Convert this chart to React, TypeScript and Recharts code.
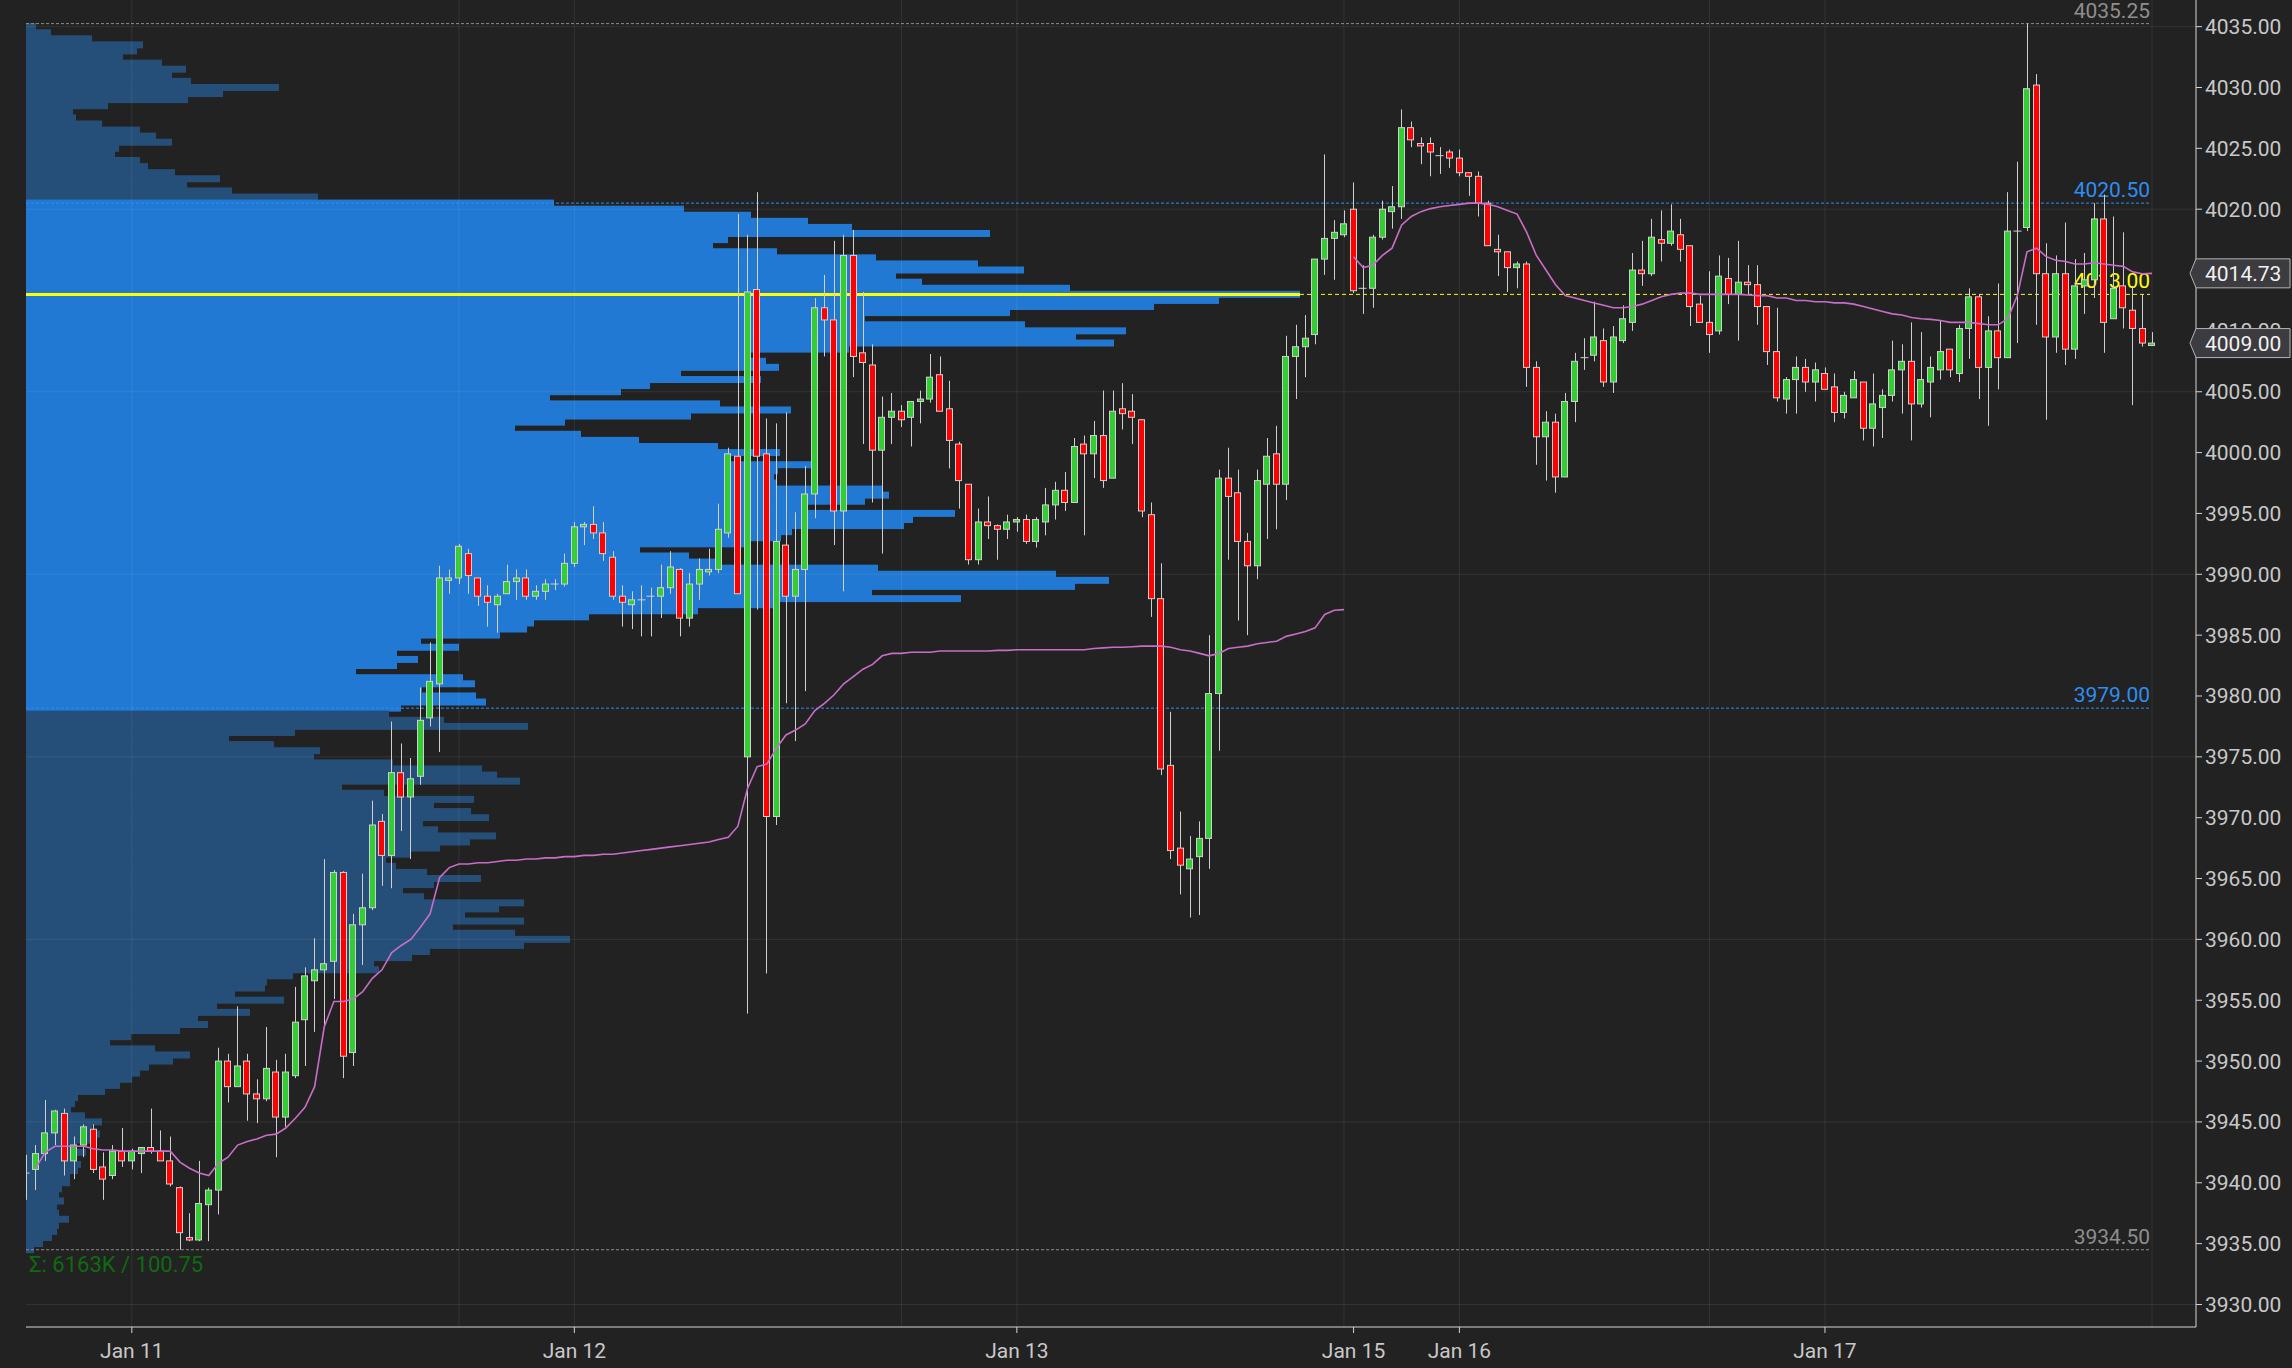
import React from 'react'
import { ComposedChart, Bar, Line, XAxis, YAxis, ReferenceLine } from 'recharts'

// ES 30-minute bars, Jan 10 (evening) to Jan 17, with a composite volume profile

const openPx = [
  3940.8, 3941.1, 3942.4, 3944.1, 3945.7, 3941.8, 3943.1, 3944.4, 3941.3, 3940.6,
  3942.6, 3941.8, 3942.4, 3942.9, 3942.6, 3941.8, 3939.6, 3935.5, 3935.3, 3938.2,
  3939.4, 3950.0, 3947.9, 3950.0, 3947.3, 3946.9, 3949.1, 3945.4, 3948.8, 3953.4,
  3956.6, 3957.5, 3958.2, 3965.5, 3950.7, 3961.2, 3962.6, 3969.7, 3966.9, 3973.7,
  3971.7, 3973.4, 3978.2, 3981.0, 3989.5, 3989.7, 3991.7, 3989.7, 3988.2, 3987.5,
  3988.4, 3989.4, 3989.7, 3988.2, 3988.6, 3989.2, 3989.2, 3990.9, 3993.9, 3994.1,
  3993.4, 3991.4, 3988.2, 3987.5, 3987.9, 3988.2, 3988.2, 3988.9, 3990.4, 3986.4,
  3989.2, 3990.2, 3990.4, 3993.4, 3999.7, 3975.0, 4013.4, 3999.9, 3970.1, 3992.4,
  3988.2, 3990.4, 3996.6, 4011.9, 4010.9, 3995.2, 4016.2, 4008.2, 4007.2, 4000.2,
  4002.9, 4003.4, 4002.9, 4004.2, 4004.4, 4006.4, 4003.6, 4000.7, 3997.4, 3991.2,
  3994.3, 3994.0, 3993.7, 3994.3, 3994.5, 3992.7, 3994.3, 3995.7, 3996.9, 3995.9,
  4000.7, 3999.9, 4001.4, 3997.9, 4003.6, 4003.4, 4002.7, 3994.9, 3988.0, 3974.3,
  3967.5, 3965.8, 3966.8, 3968.3, 3980.2, 3997.9, 3996.7, 3992.7, 3990.7, 3997.4,
  3999.9, 3997.4, 4007.9, 4008.7, 4009.7, 4015.9, 4017.6, 4017.9, 4020.0, 4013.5,
  4013.5, 4017.7, 4019.8, 4020.2, 4026.7, 4025.4, 4025.4, 4024.4, 4024.7, 4024.2,
  4023.0, 4022.7, 4020.5, 4016.7, 4016.5, 4015.2, 4015.5, 4007.0, 4001.3, 4002.5,
  3998.0, 4004.2, 4007.8, 4008.0, 4009.2, 4005.8, 4009.2, 4010.7, 4015.0, 4014.7,
  4017.5, 4017.2, 4017.9, 4017.0, 4012.2, 4010.7, 4010.0, 4014.3, 4013.0, 4014.0,
  4013.8, 4012.0, 4008.3, 4004.4, 4006.0, 4007.0, 4005.8, 4006.5, 4005.4, 4003.3,
  4004.5, 4005.8, 4002.0, 4003.7, 4004.7, 4006.8, 4007.5, 4004.0, 4005.8, 4006.8,
  4008.5, 4006.5, 4010.2, 4012.8, 4007.0, 4010.0, 4007.8, 4018.2, 4018.5, 4030.2,
  4014.7, 4009.5, 4014.7, 4008.5, 4013.7, 4014.2, 4019.2, 4011.0, 4013.7, 4011.7,
  4010.2, 4008.8,
]

const highPx = [
  3942.3, 3943.1, 3946.8, 3946.0, 3946.1, 3943.8, 3944.8, 3944.8, 3942.5, 3943.1,
  3944.5, 3942.8, 3942.9, 3946.1, 3944.3, 3943.8, 3939.7, 3937.5, 3941.8, 3939.6,
  3951.1, 3950.6, 3954.5, 3950.6, 3948.5, 3952.8, 3950.1, 3950.6, 3956.1, 3957.7,
  3960.1, 3966.6, 3965.7, 3965.6, 3962.1, 3965.4, 3971.4, 3970.3, 3977.9, 3976.1,
  3974.9, 3980.7, 3984.4, 3990.7, 3990.4, 3992.5, 3992.1, 3989.7, 3989.1, 3988.4,
  3990.8, 3990.4, 3990.4, 3989.1, 3989.6, 3989.6, 3991.7, 3994.3, 3994.3, 3995.6,
  3994.3, 3991.9, 3989.1, 3988.6, 3989.1, 3988.9, 3990.8, 3991.9, 3990.5, 3990.1,
  3991.3, 3992.1, 3995.8, 4000.4, 4019.6, 4017.9, 4021.4, 4002.8, 4002.4, 4003.3,
  3995.1, 3998.9, 4012.7, 4014.6, 4017.4, 4017.9, 4018.3, 4013.2, 4008.9, 4004.6,
  4004.9, 4003.9, 4004.2, 4005.1, 4008.1, 4007.9, 4005.9, 4000.9, 3997.4, 3995.4,
  3996.4, 3994.1, 3994.9, 3994.7, 3994.9, 3994.7, 3997.1, 3997.6, 3998.4, 4001.2,
  4001.4, 4002.6, 4005.1, 4005.1, 4005.7, 4004.8, 4002.7, 3995.9, 3990.9, 3978.7,
  3970.5, 3968.5, 3969.7, 3985.0, 3998.6, 4000.4, 3998.6, 3993.4, 3998.6, 4001.2,
  4002.2, 4009.6, 4010.5, 4011.3, 4015.9, 4024.5, 4019.1, 4019.9, 4022.2, 4015.4,
  4017.9, 4020.7, 4021.9, 4028.2, 4027.2, 4025.9, 4025.9, 4025.1, 4024.9, 4024.9,
  4023.0, 4023.1, 4020.7, 4017.9, 4016.5, 4015.7, 4015.7, 4007.5, 4003.4, 4003.2,
  4004.9, 4008.2, 4009.4, 4012.4, 4010.2, 4010.4, 4012.1, 4016.4, 4017.4, 4019.2,
  4019.9, 4020.4, 4019.2, 4017.0, 4012.9, 4014.9, 4016.2, 4016.0, 4017.4, 4015.4,
  4015.4, 4012.0, 4011.9, 4006.2, 4007.9, 4007.7, 4007.4, 4007.0, 4006.5, 4005.0,
  4006.7, 4005.8, 4006.5, 4005.2, 4009.2, 4008.9, 4010.7, 4009.9, 4007.9, 4010.9,
  4008.5, 4010.5, 4013.5, 4013.0, 4011.2, 4013.9, 4021.4, 4023.9, 4035.25, 4031.1,
  4017.2, 4016.2, 4018.9, 4015.9, 4016.4, 4020.5, 4021.2, 4019.4, 4018.1, 4013.7,
  4013.0, 4009.9,
]

const lowPx = [
  3938.6, 3939.4, 3941.8, 3943.1, 3940.6, 3940.3, 3942.1, 3940.8, 3938.6, 3940.3,
  3941.3, 3941.1, 3940.8, 3942.4, 3941.8, 3939.7, 3934.5, 3935.2, 3935.2, 3935.2,
  3937.4, 3946.6, 3947.9, 3945.1, 3944.9, 3946.7, 3942.1, 3944.6, 3948.6, 3949.6,
  3952.4, 3952.9, 3955.1, 3948.6, 3949.6, 3957.9, 3962.4, 3964.4, 3964.2, 3968.9,
  3966.6, 3972.7, 3977.5, 3975.4, 3988.4, 3989.2, 3988.4, 3987.4, 3985.7, 3985.2,
  3988.4, 3987.9, 3987.9, 3987.9, 3987.9, 3988.7, 3989.0, 3990.6, 3992.4, 3992.9,
  3991.1, 3987.9, 3985.7, 3985.5, 3984.9, 3984.9, 3986.4, 3988.4, 3984.9, 3985.7,
  3987.9, 3989.9, 3990.1, 3993.0, 3988.4, 3953.9, 3987.1, 3957.2, 3969.4, 3979.4,
  3976.3, 3980.4, 3994.6, 4007.9, 3992.4, 3988.6, 4006.2, 4000.7, 3995.9, 3991.7,
  4000.7, 4002.1, 4000.5, 4002.4, 4004.1, 4003.4, 3998.7, 3995.4, 3990.8, 3990.8,
  3992.9, 3991.2, 3992.9, 3993.5, 3992.5, 3992.2, 3993.2, 3994.5, 3995.2, 3995.9,
  3993.2, 3997.9, 3997.1, 3997.9, 4001.9, 4000.7, 3994.7, 3986.5, 3973.5, 3966.6,
  3963.7, 3961.8, 3962.0, 3965.8, 3975.5, 3991.2, 3986.2, 3985.0, 3989.6, 3992.9,
  3993.7, 3996.1, 4004.4, 4006.2, 4008.9, 4014.6, 4014.2, 4017.7, 4013.1, 4011.4,
  4011.9, 4017.5, 4018.4, 4019.2, 4025.1, 4023.7, 4022.7, 4022.9, 4023.4, 4022.7,
  4021.1, 4019.4, 4017.0, 4014.5, 4013.2, 4013.5, 4005.4, 3999.0, 3997.7, 3996.7,
  3998.0, 4002.5, 4006.8, 4007.5, 4005.4, 4004.9, 4009.0, 4010.0, 4013.7, 4014.5,
  4015.7, 4017.0, 4015.7, 4010.4, 4010.7, 4008.2, 4009.7, 4012.2, 4009.2, 4013.0,
  4010.5, 4007.2, 4004.2, 4003.2, 4003.2, 4005.0, 4004.2, 4005.2, 4002.5, 4002.8,
  4004.5, 4001.0, 4000.5, 4001.2, 4004.2, 4003.2, 4001.0, 4003.7, 4002.9, 4006.0,
  4006.2, 4005.8, 4007.7, 4004.4, 4002.2, 4005.2, 4007.8, 4009.0, 4018.2, 4010.5,
  4002.7, 4008.2, 4007.2, 4007.7, 4011.4, 4012.7, 4008.2, 4011.0, 4010.2, 4003.9,
  4008.7, 4008.8,
]

const closePx = [
  3940.8, 3942.4, 3944.1, 3945.9, 3941.8, 3943.1, 3944.6, 3941.1, 3940.3, 3942.6,
  3941.8, 3942.6, 3942.9, 3942.6, 3941.8, 3939.9, 3935.9, 3935.3, 3938.3, 3939.4,
  3950.0, 3947.9, 3949.6, 3947.3, 3946.9, 3949.4, 3945.4, 3949.1, 3953.2, 3957.0,
  3957.5, 3958.0, 3965.5, 3950.4, 3961.2, 3962.6, 3969.4, 3966.9, 3973.7, 3971.7,
  3973.2, 3978.0, 3981.2, 3989.7, 3989.7, 3992.3, 3989.9, 3988.2, 3987.7, 3988.2,
  3989.4, 3989.7, 3988.2, 3988.6, 3989.2, 3989.2, 3990.9, 3993.9, 3994.1, 3993.4,
  3991.7, 3988.2, 3987.7, 3987.9, 3987.9, 3988.2, 3988.9, 3990.6, 3986.4, 3989.2,
  3990.4, 3990.4, 3993.7, 3999.9, 3988.4, 4013.2, 3999.7, 3970.1, 3992.7, 3988.2,
  3990.4, 3996.6, 4011.9, 4010.9, 3995.2, 4016.2, 4007.9, 4007.4, 4000.2, 4002.9,
  4003.4, 4002.7, 4004.2, 4004.4, 4006.2, 4003.4, 4001.0, 3997.7, 3991.2, 3994.3,
  3994.0, 3993.7, 3994.3, 3994.5, 3992.7, 3994.5, 3995.7, 3996.9, 3995.9, 4000.5,
  3999.9, 4001.4, 3997.7, 4003.4, 4003.2, 4002.9, 3995.2, 3988.0, 3974.0, 3967.3,
  3966.1, 3966.6, 3968.3, 3980.2, 3997.9, 3996.4, 3992.7, 3990.7, 3997.7, 3999.7,
  3997.4, 4007.9, 4008.7, 4009.4, 4015.9, 4017.6, 4018.1, 4018.8, 4013.3, 4013.5,
  4017.7, 4020.0, 4020.2, 4026.7, 4025.7, 4025.2, 4024.7, 4024.4, 4024.2, 4023.0,
  4022.7, 4020.5, 4017.0, 4016.5, 4015.2, 4015.5, 4007.0, 4001.3, 4002.5, 3998.0,
  4004.2, 4007.5, 4007.8, 4009.5, 4005.8, 4009.5, 4011.0, 4015.0, 4014.7, 4017.7,
  4017.2, 4018.2, 4016.7, 4012.0, 4010.7, 4009.7, 4014.5, 4013.0, 4014.0, 4013.8,
  4012.0, 4008.3, 4004.5, 4006.0, 4007.0, 4005.8, 4006.8, 4005.2, 4003.3, 4004.7,
  4006.0, 4002.0, 4004.0, 4004.7, 4006.8, 4007.5, 4004.0, 4006.0, 4007.0, 4008.3,
  4006.8, 4010.2, 4012.8, 4007.0, 4010.0, 4007.8, 4018.2, 4018.2, 4029.9, 4014.7,
  4009.5, 4014.7, 4008.5, 4013.7, 4014.2, 4019.2, 4010.7, 4013.5, 4011.9, 4010.2,
  4009.0, 4009.0,
]

// anchored VWAP from the first bar up to the Friday close
const vwapA = [
  null, 3941.2, 3942.5, 3943.0, 3943.0, 3943.0, 3943.0, 3942.8, 3942.7, 3942.7,
  3942.6, 3942.6, 3942.6, 3942.6, 3942.6, 3942.6, 3941.7, 3941.2, 3940.8, 3940.6,
  3941.6, 3942.1, 3943.1, 3943.4, 3943.6, 3943.9, 3944.0, 3944.5, 3945.3, 3946.2,
  3947.9, 3952.8, 3954.9, 3954.9, 3955.1, 3955.7, 3956.8, 3957.5, 3958.9, 3959.5,
  3960.0, 3961.0, 3962.1, 3965.1, 3965.9, 3966.2, 3966.2, 3966.3, 3966.3, 3966.4,
  3966.5, 3966.5, 3966.6, 3966.6, 3966.7, 3966.7, 3966.8, 3966.8, 3966.9, 3966.9,
  3967.0, 3967.0, 3967.1, 3967.2, 3967.3, 3967.4, 3967.5, 3967.6, 3967.7, 3967.8,
  3967.9, 3968.0, 3968.2, 3968.4, 3969.3, 3972.4, 3974.2, 3974.4, 3975.7, 3976.8,
  3977.2, 3977.7, 3978.8, 3979.4, 3980.1, 3981.0, 3981.6, 3982.2, 3982.6, 3983.3,
  3983.5, 3983.5, 3983.6, 3983.6, 3983.6, 3983.7, 3983.7, 3983.7, 3983.7, 3983.7,
  3983.7, 3983.75, 3983.75, 3983.8, 3983.8, 3983.8, 3983.8, 3983.8, 3983.8, 3983.8,
  3983.8, 3983.9, 3983.95, 3984.0, 3984.0, 3984.05, 3984.1, 3984.1, 3984.1, 3984.0,
  3983.8, 3983.7, 3983.5, 3983.3, 3983.5, 3983.9, 3984.0, 3984.1, 3984.3, 3984.4,
  3984.5, 3984.9, 3985.1, 3985.3, 3985.6, 3986.7, 3987.05, 3987.1,
]

// VWAP from the Sunday open
const vwapBStart = 138
const vwapB = [
  4016.1, 4015.2, 4015.4, 4016.2, 4016.8, 4018.7, 4019.4, 4019.8, 4020.05, 4020.2,
  4020.3, 4020.4, 4020.5, 4020.5, 4020.4, 4020.2, 4019.9, 4019.6, 4018.1, 4016.2,
  4015.0, 4013.8, 4012.9, 4012.7, 4012.5, 4012.3, 4012.1, 4011.9, 4011.9, 4012.0,
  4012.2, 4012.5, 4012.8, 4013.0, 4013.1, 4013.1, 4013.0, 4013.0, 4013.0, 4013.0,
  4013.0, 4012.95, 4012.9, 4012.9, 4012.7, 4012.7, 4012.5, 4012.5, 4012.4, 4012.4,
  4012.3, 4012.3, 4012.2, 4012.0, 4011.8, 4011.6, 4011.4, 4011.3, 4011.1, 4011.0,
  4010.95, 4010.85, 4010.7, 4010.7, 4010.7, 4010.6, 4010.5, 4010.5, 4011.0, 4012.9,
  4016.5, 4016.8, 4016.1, 4015.8, 4015.7, 4015.5, 4015.5, 4015.6, 4015.5, 4015.4,
  4015.3, 4014.85, 4014.7, 4014.73,
]

// volume profile, 0.5 pt rows from 4035.0 down to 3934.5
const profileTop = 4035.0
const profileStep = 0.5
const profileVol = [
  1.0, 2.5, 6.6, 11.7, 11.1, 9.7, 13.6, 16.0, 14.6, 16.5,
  25.3, 19.7, 16.2, 8.2, 4.7, 5.0, 7.6, 11.4, 13.0, 14.6,
  9.3, 8.9, 11.4, 12.2, 14.9, 19.4, 16.1, 20.6, 29.2, 52.8,
  65.8, 72.5, 78.2, 82.6, 96.4, 70.2, 68.7, 75.1, 85.0, 95.2,
  99.8, 87.0, 89.6, 104.4, 127.4, 119.3, 112.8, 98.4, 83.9, 99.9,
  110.0, 105.0, 108.8, 82.3, 72.3, 74.0, 75.3, 65.5, 73.5, 62.4,
  59.5, 52.4, 69.4, 76.5, 66.5, 53.9, 48.9, 55.5, 61.3, 69.2,
  75.4, 69.8, 79.2, 75.2, 74.8, 75.0, 85.6, 86.3, 83.9, 77.7,
  92.9, 88.7, 87.8, 76.6, 75.5, 71.9, 61.4, 66.3, 69.1, 85.2,
  103.0, 108.3, 104.9, 84.6, 93.5, 75.1, 67.2, 56.3, 50.8, 50.1,
  47.4, 39.5, 43.3, 37.1, 39.2, 37.1, 33.0, 43.7, 44.9, 39.6,
  45.0, 46.0, 37.5, 36.3, 41.8, 50.2, 26.9, 20.3, 24.8, 29.4,
  28.8, 36.7, 45.6, 47.1, 49.4, 31.6, 35.8, 44.8, 40.8, 44.5,
  46.3, 39.7, 41.2, 47.0, 44.4, 41.4, 38.4, 36.0, 37.0, 40.1,
  45.5, 40.8, 37.7, 39.8, 49.8, 47.3, 43.9, 49.8, 42.7, 48.9,
  54.4, 49.8, 40.4, 38.6, 34.8, 35.3, 26.7, 24.1, 23.9, 20.9,
  25.8, 19.1, 22.4, 17.2, 18.2, 15.4, 10.5, 8.4, 12.9, 16.4,
  14.7, 12.3, 11.4, 10.6, 9.4, 7.9, 5.2, 4.9, 4.5, 5.9,
  7.6, 6.6, 7.4, 7.1, 5.1, 6.0, 4.8, 5.5, 5.2, 4.4,
  4.4, 3.6, 3.3, 3.8, 3.1, 3.3, 4.3, 3.3, 3.1, 2.6,
  1.7, 0.8,
]
const vaHigh = 4020.5
const vaLow = 3979.0
const totalVolK = 6163

const tickIdx = [11, 57, 103, 138, 149, 187]
const tickLabels = ['Jan 11', 'Jan 12', 'Jan 13', 'Jan 15', 'Jan 16', 'Jan 17']
const gridIdx = [11, 45, 57, 91, 103, 137, 149, 175, 187, 221]
const gridPrices = [3930, 3945, 3960, 3975, 3990, 4005, 4020, 4035]
const priceTicks = [
  3930, 3935, 3940, 3945, 3950, 3955, 3960, 3965, 3970, 3975, 3980,
  3985, 3990, 3995, 4000, 4005, 4010, 4015, 4020, 4025, 4030, 4035,
]

// layout
const W = 2292
const H = 1368
const PLOT_L = 26
const AXIS_W = 96
const AXIS_H = 41
const LINE_END = 2150
const X_MAX = 225.57
const Y_DOMAIN: [number, number] = [3928.15, 4037.19]
const FONT = 'Roboto, Arial, sans-serif'

const BG = '#222222'
const GRID = 'rgba(255,255,255,0.08)'
const WICK = '#cfcfcf'
const UP = '#32cd32'
const DOWN = '#ff0000'
const VA_FILL = '#2179d3'
const OUT_FILL = '#254f79'
const BLUE = '#2e8ef0'
const GREY = '#8e8e8e'
const YELLOW = '#ffff00'
const VWAP = '#c86ec8'

const rows = openPx.map((o, i) => ({
  i,
  o,
  h: highPx[i],
  l: lowPx[i],
  c: closePx[i],
  vA: i < vwapA.length ? vwapA[i] : null,
  vB: i >= vwapBStart ? vwapB[i - vwapBStart] : null,
}))

const profileRows = profileVol.map((v, k) => ({ p: profileTop - k * profileStep, v }))
const pocIdx = profileVol.indexOf(Math.max(...profileVol))
const pocPrice = profileRows[pocIdx].p
const rangeHigh = Math.max(...highPx)
const rangeLow = Math.min(...lowPx)

const levels = [
  { y: rangeHigh, color: GREY, dash: '3 2' },
  { y: vaHigh, color: BLUE, dash: '3 2' },
  { y: pocPrice, color: YELLOW, dash: '4 3' },
  { y: vaLow, color: BLUE, dash: '3 2' },
  { y: rangeLow, color: GREY, dash: '3 2' },
]

function Candle(props: any) {
  const { x, y, width, height } = props
  const d = props.payload ?? props
  const top = Math.min(y, y + height)
  const span = Math.abs(height)
  const k = d.h > d.l ? span / (d.h - d.l) : 0
  const py = (v: number) => top + (d.h - v) * k
  const cx = Math.round(x + width / 2) + 0.5
  const bTop = py(Math.max(d.o, d.c))
  const bBot = py(Math.min(d.o, d.c))
  const left = Math.round(x) + 0.5
  const w = Math.round(width) - 1
  return (
    <g>
      <line x1={cx} x2={cx} y1={top} y2={top + span} stroke={WICK} strokeWidth={1} />
      {d.c !== d.o ? (
        <rect x={left} y={bTop} width={w} height={Math.max(bBot - bTop, 1)} fill={d.c > d.o ? UP : DOWN} stroke={WICK} strokeWidth={1} />
      ) : (
        <line x1={left - 1} x2={left + w + 1} y1={bTop} y2={bTop} stroke={WICK} strokeWidth={1} />
      )}
    </g>
  )
}

// one profile row; slightly taller than its band so neighbouring rows touch
function ProfileRow(props: any) {
  const { x, y, width, height } = props
  const d = props.payload ?? props
  const inVa = d.p <= vaHigh && d.p >= vaLow
  const top = Math.min(y, y + height)
  return (
    <rect
      x={x}
      y={top - 0.5}
      width={Math.max(width, 0)}
      height={Math.abs(height) + 1}
      fill={inVa ? VA_FILL : OUT_FILL}
    />
  )
}

const levelLabel = (text: string, color: string) => (p: any) => {
  const vb = p.viewBox || {}
  return (
    <text x={vb.x + vb.width} y={vb.y - 6} fill={color} fontSize={21} textAnchor="end" fontFamily={FONT}>
      {text}
    </text>
  )
}

const sumLabel = (p: any) => {
  const vb = p.viewBox || {}
  return (
    <text x={vb.x + 3} y={vb.y + 22} fill="#106a10" fontSize={22} fontFamily={FONT}>
      {`Σ: ${totalVolK}K / ${(rangeHigh - rangeLow).toFixed(2)}`}
    </text>
  )
}

const tagLabel = (text: string) => (p: any) => {
  const vb = p.viewBox || {}
  const r = vb.x + vb.width
  const cy = vb.y
  const pts = `${r - 6},${cy} ${r},${cy - 14.5} ${r + 94},${cy - 14.5} ${r + 94},${cy + 14.5} ${r},${cy + 14.5}`
  return (
    <g>
      <polygon points={pts} fill="#3b3b40" stroke="#b4b4b4" strokeWidth={1} />
      <text x={r + 9} y={cy + 7.5} fill="#f2f2f2" fontSize={21} fontFamily={FONT}>
        {text}
      </text>
    </g>
  )
}

function ProfileLayer() {
  return (
    <ComposedChart
      layout="vertical"
      width={W}
      height={H}
      data={profileRows}
      margin={{ top: 0, right: W - LINE_END, bottom: AXIS_H, left: PLOT_L }}
    >
      <XAxis type="number" domain={[0, (LINE_END - PLOT_L) / 10]} hide allowDataOverflow />
      <YAxis type="number" dataKey="p" domain={Y_DOMAIN} reversed hide allowDataOverflow />
      {levels.map((lv) => (
        <ReferenceLine
          key={lv.y}
          y={lv.y}
          stroke={lv.color}
          strokeDasharray={lv.dash}
          strokeWidth={1}
          label={levelLabel(lv.y.toFixed(2), lv.color)}
        />
      ))}
      <ReferenceLine y={rangeLow} stroke="none" label={sumLabel} />
      <Bar dataKey="v" barSize={6} shape={ProfileRow} isAnimationActive={false} />
      <ReferenceLine
        segment={[{ x: 0, y: pocPrice }, { x: profileVol[pocIdx], y: pocPrice }]}
        stroke={YELLOW}
        strokeWidth={3}
      />
    </ComposedChart>
  )
}

function PriceLayer() {
  return (
    <ComposedChart width={W} height={H} data={rows} margin={{ top: 0, right: 0, bottom: 0, left: PLOT_L }}>
      <XAxis
        dataKey="i"
        type="number"
        domain={[0, X_MAX]}
        allowDataOverflow
        ticks={tickIdx}
        interval={0}
        tickFormatter={(v) => tickLabels[tickIdx.indexOf(v)]}
        height={AXIS_H}
        stroke="#d4d4d4"
        tickSize={6}
        tickMargin={10}
        tick={{ fill: '#c8c8c8', fontSize: 21, fontFamily: FONT }}
      />
      <YAxis
        type="number"
        orientation="right"
        domain={Y_DOMAIN}
        allowDataOverflow
        ticks={priceTicks}
        interval={0}
        tickFormatter={(v) => v.toFixed(2)}
        width={AXIS_W}
        stroke="#d4d4d4"
        tickSize={6}
        tickMargin={3}
        tick={{ fill: '#c8c8c8', fontSize: 21, fontFamily: FONT, textAnchor: 'start' }}
      />
      {gridIdx.map((v) => (
        <ReferenceLine key={'gx' + v} x={v} stroke={GRID} />
      ))}
      {gridPrices.map((v) => (
        <ReferenceLine key={'gy' + v} y={v} stroke={GRID} />
      ))}
      <Bar dataKey={(d: any) => [d.l, d.h]} shape={Candle} barSize={7} isAnimationActive={false} />
      <Line dataKey="vA" stroke={VWAP} strokeWidth={1.6} dot={false} connectNulls={false} isAnimationActive={false} />
      <Line dataKey="vB" stroke={VWAP} strokeWidth={1.6} dot={false} connectNulls={false} isAnimationActive={false} />
    </ComposedChart>
  )
}

function TagLayer() {
  const lastClose = closePx[closePx.length - 1]
  const lastVwap = vwapB[vwapB.length - 1]
  return (
    <ComposedChart width={W} height={H} data={rows} margin={{ top: 0, right: AXIS_W, bottom: AXIS_H, left: PLOT_L }}>
      <XAxis dataKey="i" type="number" domain={[0, X_MAX]} hide allowDataOverflow />
      <YAxis type="number" domain={Y_DOMAIN} hide allowDataOverflow />
      <ReferenceLine y={lastVwap} stroke="none" label={tagLabel(lastVwap.toFixed(2))} />
      <ReferenceLine y={lastClose} stroke="none" label={tagLabel(lastClose.toFixed(2))} />
    </ComposedChart>
  )
}

const layer: React.CSSProperties = { position: 'absolute', left: 0, top: 0 }

export default function App() {
  return (
    <div style={{ position: 'absolute', left: 0, top: 0, width: W, height: H, background: BG, fontFamily: FONT }}>
      <div style={layer}>
        <ProfileLayer />
      </div>
      <div style={layer}>
        <PriceLayer />
      </div>
      <div style={layer}>
        <TagLayer />
      </div>
    </div>
  )
}
